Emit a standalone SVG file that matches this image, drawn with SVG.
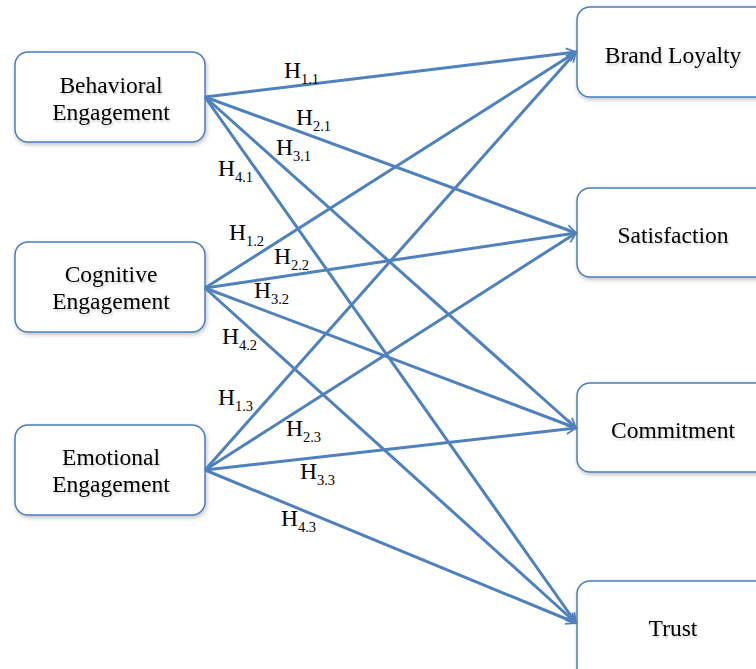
<svg xmlns="http://www.w3.org/2000/svg" width="756" height="669" viewBox="0 0 756 669">
<style>
.box{fill:#fff;stroke:#4a7ebb;stroke-width:1.5;filter:url(#sh)}
.lbl{font-family:"Liberation Serif","Times New Roman",serif;font-size:23.5px;fill:#000;text-anchor:middle;filter:url(#ts)}
.h{font-family:"Liberation Serif","Times New Roman",serif;font-size:23.5px;fill:#000}
.s{font-size:14.5px}
.c{stroke:#4f81bd;stroke-width:3;fill:none;marker-end:url(#ar)}
</style>
<defs>
<filter id="sh" x="-10%" y="-10%" width="130%" height="130%">
<feDropShadow dx="1" dy="2" stdDeviation="2" flood-color="#000" flood-opacity="0.25"/>
</filter>
<filter id="ts" x="-10%" y="-20%" width="130%" height="160%">
<feDropShadow dx="1" dy="2" stdDeviation="1.2" flood-color="#000" flood-opacity="0.2"/>
</filter>
<marker id="ar" viewBox="0 0 10 10" refX="9" refY="5" markerWidth="7" markerHeight="7" markerUnits="userSpaceOnUse" orient="auto" overflow="visible">
<path d="M-5,-2 L9,5 L-5,12" fill="none" stroke="#4f81bd" stroke-width="2.6" stroke-linejoin="miter"/>
</marker>
</defs>
<g id="behavioral"><rect class="box" x="15" y="52" width="190" height="90" rx="13"/><text class="lbl" x="111" y="93">Behavioral</text><text class="lbl" x="111" y="120">Engagement</text></g>
<g id="cognitive"><rect class="box" x="15" y="242" width="190" height="90" rx="13"/><text class="lbl" x="111" y="282">Cognitive</text><text class="lbl" x="111" y="309">Engagement</text></g>
<g id="emotional"><rect class="box" x="15" y="425" width="190" height="90" rx="13"/><text class="lbl" x="111" y="465">Emotional</text><text class="lbl" x="111" y="492">Engagement</text></g>
<g id="loyalty"><rect class="box" x="577" y="7" width="200" height="90" rx="13"/><text class="lbl" x="673" y="63">Brand Loyalty</text></g>
<g id="satisfaction"><rect class="box" x="577" y="188" width="200" height="89" rx="13"/><text class="lbl" x="673" y="243">Satisfaction</text></g>
<g id="commitment"><rect class="box" x="577" y="383" width="200" height="89" rx="13"/><text class="lbl" x="673" y="438">Commitment</text></g>
<g id="trust"><rect class="box" x="577" y="581" width="200" height="100" rx="13"/><text class="lbl" x="673" y="636">Trust</text></g>
<g id="connectors">
<line class="c" x1="205" y1="97" x2="576" y2="52"/>
<line class="c" x1="205" y1="97" x2="576" y2="233"/>
<line class="c" x1="205" y1="97" x2="576" y2="428"/>
<line class="c" x1="205" y1="97" x2="576" y2="623"/>
<line class="c" x1="205" y1="288" x2="576" y2="52"/>
<line class="c" x1="205" y1="288" x2="576" y2="233"/>
<line class="c" x1="205" y1="288" x2="576" y2="428"/>
<line class="c" x1="205" y1="288" x2="576" y2="623"/>
<line class="c" x1="205" y1="470" x2="576" y2="52"/>
<line class="c" x1="205" y1="470" x2="576" y2="233"/>
<line class="c" x1="205" y1="470" x2="576" y2="428"/>
<line class="c" x1="205" y1="470" x2="576" y2="623"/>
</g>
<g id="labels">
<text class="h" x="284" y="78">H<tspan class="s" dy="6">1.1</tspan></text>
<text class="h" x="296" y="125">H<tspan class="s" dy="6">2.1</tspan></text>
<text class="h" x="276" y="155">H<tspan class="s" dy="6">3.1</tspan></text>
<text class="h" x="218" y="176">H<tspan class="s" dy="6">4.1</tspan></text>
<text class="h" x="229" y="240">H<tspan class="s" dy="6">1.2</tspan></text>
<text class="h" x="274" y="264">H<tspan class="s" dy="6">2.2</tspan></text>
<text class="h" x="254" y="298">H<tspan class="s" dy="6">3.2</tspan></text>
<text class="h" x="222" y="344">H<tspan class="s" dy="6">4.2</tspan></text>
<text class="h" x="218" y="405">H<tspan class="s" dy="6">1.3</tspan></text>
<text class="h" x="286" y="436">H<tspan class="s" dy="6">2.3</tspan></text>
<text class="h" x="300" y="479">H<tspan class="s" dy="6">3.3</tspan></text>
<text class="h" x="281" y="526">H<tspan class="s" dy="6">4.3</tspan></text>
</g>
</svg>
